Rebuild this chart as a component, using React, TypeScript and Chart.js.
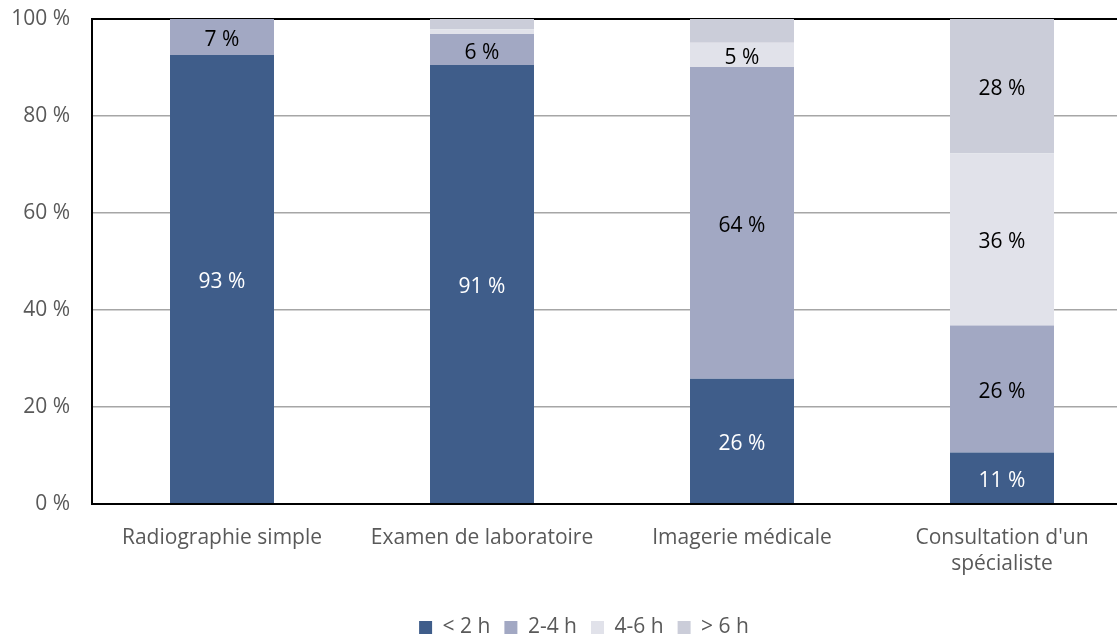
import React, { useEffect, useRef } from "react";
import { Chart, registerables } from "chart.js";

Chart.register(...registerables);

const categories: (string | string[])[] = [
  "Radiographie simple",
  "Examen de laboratoire",
  "Imagerie médicale",
  ["Consultation d'un", "spécialiste"],
];
const seriesNames = ["< 2 h", "2-4 h", "4-6 h", "> 6 h"];
const lessThan2h = [92.6, 90.5, 25.8, 10.6];
const from2to4h = [7.4, 6.4, 64.3, 26.2];
const from4to6h = [0, 1.0, 5.0, 35.5];
const moreThan6h = [0, 2.1, 4.9, 27.7];
const yTicks = [0, 20, 40, 60, 80, 100];

const colors = ["#3f5d8a", "#a2a8c3", "#e1e2ea", "#cbcdd9"];
const labelColors = ["#ffffff", "#000000", "#000000", "#000000"];
const FONT = "'Open Sans', sans-serif";

const labelPlugin = {
  id: "barLabels",
  afterLayout(chart: any) {
    if (chart.legend) {
      chart.legend.left += 18;
      chart.legend.right += 18;
    }
  },
  afterDatasetsDraw(chart: any) {
    const ctx = chart.ctx;
    ctx.save();
    ctx.font = `21px ${FONT}`;
    ctx.textAlign = "center";
    ctx.textBaseline = "middle";
    chart.data.datasets.forEach((ds: any, di: number) => {
      const meta = chart.getDatasetMeta(di);
      meta.data.forEach((el: any, i: number) => {
        const v = ds.data[i];
        if (v < 5) return;
        const y = (el.y + el.base) / 2 + 3;
        ctx.fillStyle = labelColors[di];
        ctx.fillText(`${Math.round(v)} %`, el.x, y);
      });
    });
    ctx.restore();
  },
};

export default function App() {
  const ref = useRef<HTMLCanvasElement>(null);
  useEffect(() => {
    if (!ref.current) return;
    const series = [lessThan2h, from2to4h, from4to6h, moreThan6h];
    const chart = new Chart(ref.current, {
      type: "bar",
      data: {
        labels: categories,
        datasets: series.map((d, i) => ({
          label: seriesNames[i],
          data: d,
          backgroundColor: colors[i],
          barPercentage: 0.4,
          categoryPercentage: 1,
        })),
      },
      plugins: [labelPlugin],
      options: {
        animation: false,
        responsive: false,
        maintainAspectRatio: false,
        layout: { padding: { top: 19, right: 8, left: 0, bottom: 0 } },
        plugins: {
          tooltip: { enabled: false },
          legend: {
            position: "bottom",
            labels: {
              font: { family: FONT, size: 21 },
              color: "#595959",
              boxWidth: 13,
              boxHeight: 13,
              padding: 14,
            },
          },
        },
        scales: {
          x: {
            stacked: true,
            grid: { display: false, drawTicks: false },
            border: { color: "#000000", width: 2 },
            ticks: {
              font: { family: FONT, size: 21, lineHeight: 1.24 },
              color: "#595959",
              padding: 21,
              maxRotation: 0,
            },
            afterFit: (s: any) => {
              s.height = 99;
            },
          },
          y: {
            stacked: true,
            min: 0,
            max: 100,
            afterBuildTicks: (s: any) => {
              s.ticks = yTicks.map((v) => ({ value: v }));
            },
            grid: {
              drawTicks: false,
              color: (c: any) =>
                c.tick && (c.tick.value === 100 || c.tick.value === 0) ? "#000000" : "#a6a6a6",
              lineWidth: (c: any) =>
                c.tick && (c.tick.value === 100 || c.tick.value === 0) ? 2 : 1.5,
            },
            border: { color: "#000000", width: 2 },
            ticks: {
              font: { family: FONT, size: 21 },
              color: "#595959",
              padding: 22,
              callback: (v: any) => `${v} %`,
            },
            afterFit: (s: any) => {
              s.width = 92;
              s.paddingTop = 0;
              s.paddingBottom = 0;
            },
          },
        },
      },
    });
    return () => chart.destroy();
  }, []);
  return (
    <div
      style={{
        position: "fixed",
        left: 0,
        top: 0,
        width: 1117,
        height: 635,
        overflow: "hidden",
        background: "#ffffff",
      }}
    >
      <canvas ref={ref} width={1140} height={648} style={{ display: "block" }} />
    </div>
  );
}
